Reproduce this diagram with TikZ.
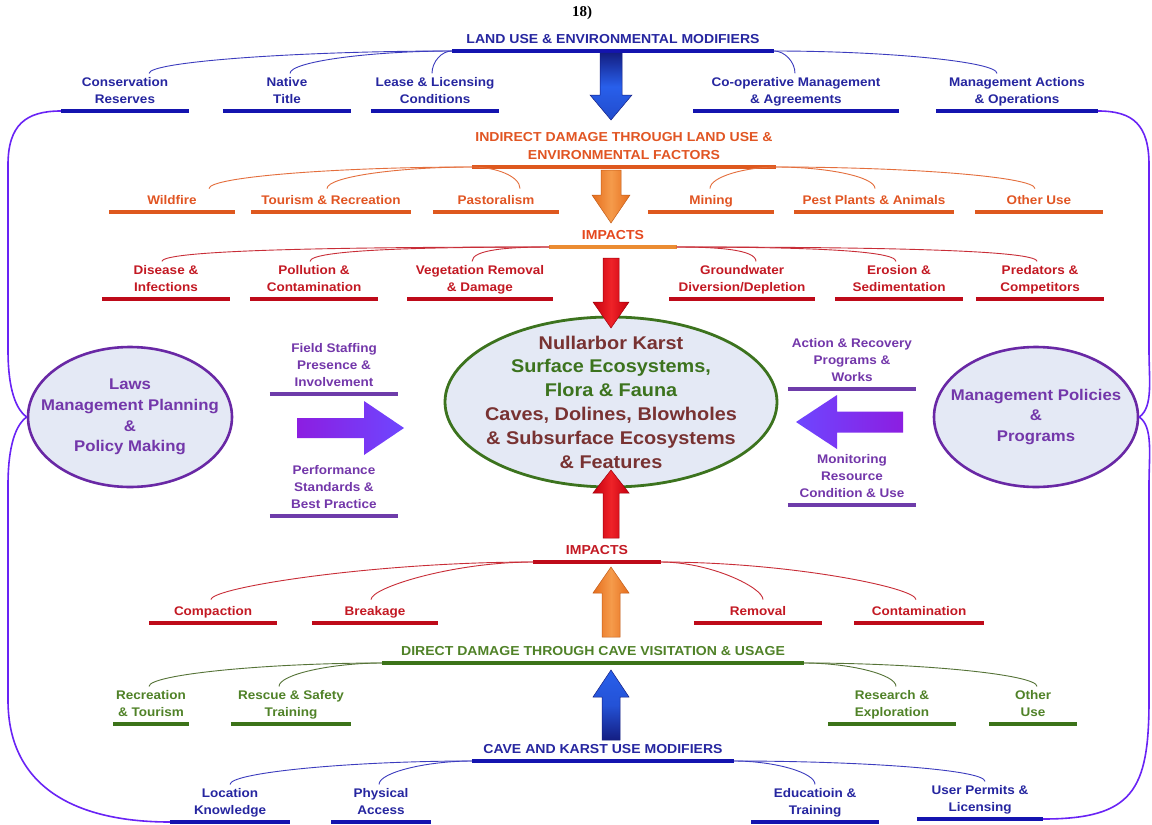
\documentclass[tikz,border=0pt]{standalone}
\usepackage{fontspec}
\setmainfont{Liberation Sans}[FakeStretch=1.08]
\newfontfamily\titlefont{Liberation Serif}
\usetikzlibrary{shapes.geometric}
\definecolor{navytext}{RGB}{38,38,160}
\definecolor{navybar}{RGB}{20,20,175}
\definecolor{navyline}{RGB}{60,60,190}
\definecolor{orgtext}{RGB}{225,85,35}
\definecolor{orgbar}{RGB}{222,88,30}
\definecolor{orgline}{RGB}{228,110,60}
\definecolor{amber}{RGB}{235,140,50}
\definecolor{imptext}{RGB}{195,25,35}
\definecolor{impbar}{RGB}{190,10,25}
\definecolor{impline}{RGB}{200,45,55}
\definecolor{grntext}{RGB}{80,130,40}
\definecolor{grnbar}{RGB}{60,115,25}
\definecolor{grnline}{RGB}{85,115,55}
\definecolor{purptext}{RGB}{115,55,170}
\definecolor{purpbar}{RGB}{110,60,170}
\definecolor{purpedge}{RGB}{105,40,165}
\definecolor{loopviolet}{RGB}{105,35,245}
\definecolor{pale}{RGB}{228,233,245}
\definecolor{karstbrown}{RGB}{120,50,50}
\definecolor{karstgreen}{RGB}{60,115,30}
\definecolor{bluedark}{RGB}{20,30,130}
\definecolor{bluebright}{RGB}{40,95,235}
\definecolor{orgdeep}{RGB}{230,110,30}
\definecolor{orglight}{RGB}{245,155,75}
\definecolor{reddeep}{RGB}{200,0,15}
\definecolor{redlight}{RGB}{238,35,40}
\definecolor{purpdeep}{RGB}{140,30,225}
\definecolor{purplight}{RGB}{110,70,255}
% block arrows: x, tail, head base, tip, half shaft, half head, style
\newcommand{\vblock}[7]{\path[#7] (#1-#5,#2) -- (#1+#5,#2) -- (#1+#5,#3) -- (#1+#6,#3) -- (#1,#4) -- (#1-#6,#3) -- (#1-#5,#3) -- cycle;}
\newcommand{\hblock}[7]{\path[#7] (#2,#1-#5) -- (#3,#1-#5) -- (#3,#1-#6) -- (#4,#1) -- (#3,#1+#6) -- (#3,#1+#5) -- (#2,#1+#5) -- cycle;}

\begin{document}
\begin{tikzpicture}[x=1pt,y=-1pt,
  lbl/.style={font=\bfseries\fontsize{12.5}{17}\selectfont,align=center,anchor=south,
    inner xsep=0pt,inner ysep=2pt,minimum width=128pt,
    execute at begin node=\strut,execute at end node=\strut},
  ubar/.style={append after command={(\tikzlastnode.south west) edge[line width=3.5pt,draw=#1] (\tikzlastnode.south east)}},
  hdr/.style={lbl,font=\bfseries\fontsize{13}{18}\selectfont},
  blueleaf/.style={lbl,text=navytext,ubar=navybar},
  orgleaf/.style={lbl,text=orgtext,ubar=orgbar},
  impleaf/.style={lbl,text=imptext,ubar=impbar},
  grnleaf/.style={lbl,text=grntext,ubar=grnbar},
  purpleaf/.style={lbl,text=purptext,ubar=purpbar},
  brL/.style={out=180,in=90,out distance=#1pt,in distance=12pt},
  brR/.style={out=0,in=90,out distance=#1pt,in distance=12pt},
  twig/.style={line width=0.9pt,draw=#1},
  oval/.style={ellipse,draw=purpedge,line width=2.6pt,fill=pale,inner sep=-30pt,
    minimum width=204pt,minimum height=140pt,align=center,text=purptext,
    font=\bfseries\fontsize{15.5}{20.7}\selectfont},
  outerloop/.style={draw=loopviolet,line width=1.6pt},
  bluedn/.style={top color=bluedark,bottom color=bluebright!70!bluedark,middle color=bluebright,draw=bluedark,line width=0.5pt},
  blueup/.style={top color=bluebright,bottom color=bluedark,middle color=bluebright!80!bluedark,draw=bluedark,line width=0.5pt},
  orgarrow/.style={left color=orgdeep,right color=orgdeep,middle color=orglight,draw=orgdeep!85!black,line width=0.5pt},
  redarrow/.style={left color=reddeep,right color=reddeep,middle color=redlight,draw=reddeep!80!black,line width=0.5pt},
  purpright/.style={left color=purpdeep,right color=purplight},
  purpleft/.style={left color=purplight,right color=purpdeep}]
  \fill[white] (0,0) rectangle (1152,825);
  \useasboundingbox (0,0) rectangle (1152,825);
  \node[font=\titlefont\bfseries\fontsize{15}{18}\selectfont,inner sep=0pt] (figno) at (582,13) {18)};

  % land use and environmental modifiers
  \node[hdr,text=navytext,ubar=navybar,minimum width=322pt] (landuse) at (613,51) {LAND USE \& ENVIRONMENTAL MODIFIERS};
  \foreach \nm/\cx/\w/\txt in {cons/125/128/{Conservation\\Reserves},native/287/128/{Native\\Title},
      lease/435/128/{Lease \& Licensing\\Conditions},coop/796/205/{Co-operative Management\\\& Agreements},
      actions/1017/162/{Management Actions\\\& Operations}}
    \node[blueleaf,minimum width=\w pt] (\nm) at (\cx,111) {\txt};
  \foreach \nm/\dx/\od in {cons/24/150,native/3/80,lease/-3/10}
    \draw[twig=navyline] (landuse.south west) to[brL=\od] ([xshift=\dx pt,yshift=2pt]\nm.north);
  \foreach \nm/\dx/\od in {coop/-1/10,actions/-20/110}
    \draw[twig=navyline] (landuse.south east) to[brR=\od] ([xshift=\dx pt,yshift=2pt]\nm.north);

  % indirect damage
  \node[hdr,text=orgtext,ubar=orgbar,minimum width=304pt] (indirect) at (624,167) {INDIRECT DAMAGE THROUGH LAND USE \&\\ENVIRONMENTAL FACTORS};
  \foreach \nm/\cx/\w/\txt in {wildfire/172/125/{Wildfire},tourism/331/160/{Tourism \& Recreation},
      pastoral/496/126/{Pastoralism},mining/711/126/{Mining},pests/874/159/{Pest Plants \& Animals},
      otherland/1039/127/{Other Use}}
    \node[orgleaf,minimum width=\w pt] (\nm) at (\cx,212) {\txt};
  \foreach \nm/\dx/\od in {wildfire/37/130,tourism/-4/72}
    \draw[twig=orgline] (indirect.south west) to[brL=\od] ([xshift=\dx pt,yshift=2pt]\nm.north);
  \draw[twig=orgline] (indirect.south west) to[brR=25] ([xshift=24pt,yshift=2pt]pastoral.north);
  \draw[twig=orgline] (indirect.south east) to[brL=30] ([xshift=-1pt,yshift=2pt]mining.north);
  \foreach \nm/\dx/\od in {pests/1/50,otherland/-4/130}
    \draw[twig=orgline] (indirect.south east) to[brR=\od] ([xshift=\dx pt,yshift=2pt]\nm.north);

  % impacts above
  \node[hdr,text=orgtext!85!red,ubar=amber,minimum width=127pt] (impup) at (613,247) {IMPACTS};
  \foreach \nm/\cx/\w/\txt in {disease/166/128/{Disease \&\\Infections},pollution/314/128/{Pollution \&\\Contamination},
      vegetation/480/145/{Vegetation Removal\\\& Damage},groundwater/742/145/{Groundwater\\Diversion/Depletion},
      erosion/899/128/{Erosion \&\\Sedimentation},predators/1040/128/{Predators \&\\Competitors}}
    \node[impleaf,minimum width=\w pt] (\nm) at (\cx,299) {\txt};
  \foreach \nm/\dx/\od in {disease/-4/190,pollution/-4/120,vegetation/-8/40}
    \draw[twig=impline] (impup.south west) to[brL=\od] ([xshift=\dx pt,yshift=2pt]\nm.north);
  \foreach \nm/\dx/\od in {groundwater/14/40,erosion/-3/110,predators/-3/180}
    \draw[twig=impline] (impup.south east) to[brR=\od] ([xshift=\dx pt,yshift=2pt]\nm.north);

  % centre and side ellipses
  \node[ellipse,draw=karstgreen,line width=2.8pt,fill=pale,inner sep=-30pt,minimum width=332pt,minimum height=170pt,
    align=center,text=karstbrown,font=\bfseries\fontsize{18.4}{23.8}\selectfont] (karst) at (611,402)
    {Nullarbor Karst\\\textcolor{karstgreen}{Surface Ecosystems,}\\\textcolor{karstgreen}{Flora \& Fauna}\\
     Caves, Dolines, Blowholes\\\& Subsurface Ecosystems\\\& Features};
  \node[oval] (laws) at (130,417) {Laws\\Management Planning\\\&\\Policy Making};
  \node[oval] (policies) at (1036,417) {Management Policies\\\&\\Programs};
  \node[purpleaf] (staffing) at (334,394) {Field Staffing\\Presence \&\\Involvement};
  \node[purpleaf] (standards) at (334,516) {Performance\\Standards \&\\Best Practice};
  \node[purpleaf] (recovery) at (852,389) {Action \& Recovery\\Programs \&\\Works};
  \node[purpleaf] (monitoring) at (852,505) {Monitoring\\Resource\\Condition \& Use};

  % impacts below
  \node[hdr,text=imptext,ubar=impbar,minimum width=127pt] (impdown) at (597,562) {IMPACTS};
  \foreach \nm/\cx/\w/\txt in {compaction/213/127/{Compaction},breakage/375/126/{Breakage},
      removal/758/128/{Removal},contamination/919/129/{Contamination}}
    \node[impleaf,minimum width=\w pt] (\nm) at (\cx,623) {\txt};
  \foreach \nm/\dx/\od in {compaction/-2/160,breakage/-4/80}
    \draw[twig=impline] (impdown.south west) to[brL=\od] ([xshift=\dx pt,yshift=2pt]\nm.north);
  \foreach \nm/\dx/\od in {removal/5/50,contamination/-3/128}
    \draw[twig=impline] (impdown.south east) to[brR=\od] ([xshift=\dx pt,yshift=2pt]\nm.north);

  % direct damage
  \node[hdr,text=grntext,ubar=grnbar,minimum width=422pt] (direct) at (593,663) {DIRECT DAMAGE THROUGH CAVE VISITATION \& USAGE};
  \foreach \nm/\cx/\w/\txt in {recreation/151/75/{Recreation\\\& Tourism},rescue/291/120/{Rescue \& Safety\\Training},
      research/892/127/{Research \&\\Exploration},othercave/1033/87/{Other\\Use}}
    \node[grnleaf,minimum width=\w pt] (\nm) at (\cx,724) {\txt};
  \foreach \nm/\dx/\od in {recreation/-2/115,rescue/-12/50}
    \draw[twig=grnline] (direct.south west) to[brL=\od] ([xshift=\dx pt,yshift=2pt]\nm.north);
  \foreach \nm/\dx/\od in {research/4/45,othercave/4/115}
    \draw[twig=grnline] (direct.south east) to[brR=\od] ([xshift=\dx pt,yshift=2pt]\nm.north);

  % cave and karst use modifiers
  \node[hdr,text=navytext,ubar=navybar,minimum width=262pt] (caveuse) at (603,761) {CAVE AND KARST USE MODIFIERS};
  \foreach \nm/\cx/\w/\y/\txt in {location/230/120/822/{Location\\Knowledge},physical/381/99/822/{Physical\\Access},
      education/815/127/822/{Educatioin \&\\Training},permits/980/126/819/{User Permits \&\\Licensing}}
    \node[blueleaf,minimum width=\w pt] (\nm) at (\cx,\y) {\txt};
  \foreach \nm/\dx/\od in {location/0/120,physical/-2/45}
    \draw[twig=navyline] (caveuse.south west) to[brL=\od] ([xshift=\dx pt,yshift=2pt]\nm.north);
  \foreach \nm/\dx/\od in {education/0/40,permits/5/125}
    \draw[twig=navyline] (caveuse.south east) to[brR=\od] ([xshift=\dx pt,yshift=2pt]\nm.north);

  % outer loops
  \draw[outerloop] (laws.west) .. controls +(-14,-10) and +(0,30) .. (8,350) -- (8,165)
    .. controls +(0,-40) and +(-35,0) .. (cons.south west);
  \draw[outerloop] (laws.west) .. controls +(-14,10) and +(0,-30) .. (8,485) -- (8,700)
    .. controls +(0,90) and +(-90,0) .. (location.south west);
  \draw[outerloop] (policies.east) .. controls +(14,-10) and +(0,30) .. (1149,350) -- (1149,165)
    .. controls +(0,-40) and +(35,0) .. (actions.south east);
  \draw[outerloop] (policies.east) .. controls +(14,10) and +(0,-30) .. (1149,485) -- (1149,700)
    .. controls +(0,90) and +(90,0) .. (permits.south east);

  % block arrows
  \vblock{611}{53}{95}{120}{11}{21}{bluedn}
  \vblock{611}{170}{195}{223}{10}{19}{orgarrow}
  \vblock{611}{258}{302}{328}{8}{18}{redarrow}
  \vblock{611}{538}{493}{470}{8}{18}{redarrow}
  \vblock{611}{637}{593}{567}{9}{18}{orgarrow}
  \vblock{611}{740}{697}{670}{9}{18}{blueup}
  \hblock{428}{297}{364}{404}{10}{27}{purpright}
  \hblock{422}{903}{837}{796}{10.5}{27}{purpleft}
\end{tikzpicture}
\end{document}
